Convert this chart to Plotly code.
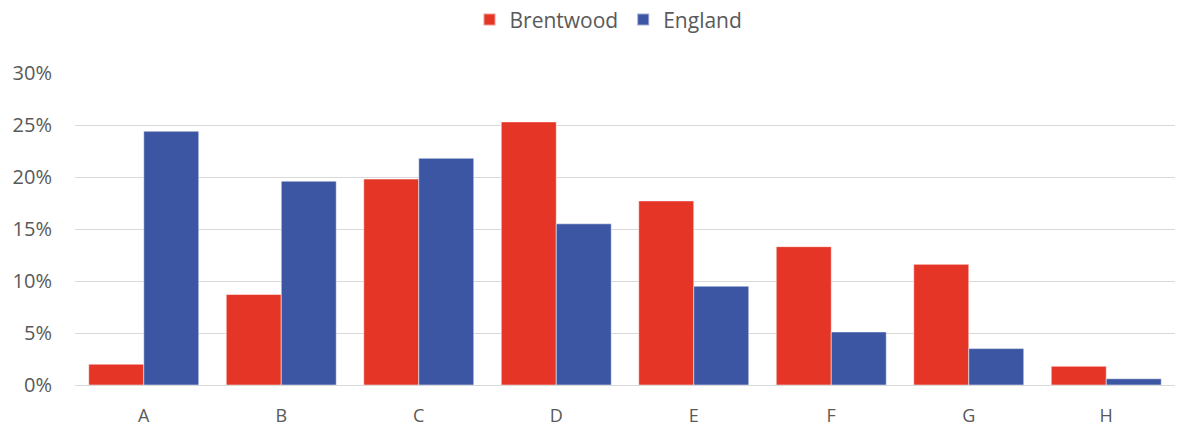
import plotly.graph_objects as go

categories = ["A", "B", "C", "D", "E", "F", "G", "H"]
brentwood = [2.0, 8.7, 19.8, 25.3, 17.7, 13.3, 11.6, 1.8]
england = [24.4, 19.6, 21.8, 15.5, 9.5, 5.1, 3.5, 0.6]
tick_vals = [0, 5, 10, 15, 20, 25, 30]
tick_text = ["0%", "5%", "10%", "15%", "20%", "25%", "30%"]

fig = go.Figure()
fig.add_trace(go.Bar(name="Brentwood", x=categories, y=brentwood,
                     marker=dict(color="#E43526", line=dict(color="rgba(255,255,255,0.5)", width=1))))
fig.add_trace(go.Bar(name="England", x=categories, y=england,
                     marker=dict(color="#3C56A3", line=dict(color="rgba(255,255,255,0.5)", width=1))))

fig.update_layout(
    width=1178, height=428,
    margin=dict(l=75, r=3, t=73, b=43, autoexpand=False),
    paper_bgcolor="white", plot_bgcolor="white",
    barmode="group", bargap=0.2, bargroupgap=0,
    font=dict(family="Open Sans, Liberation Sans, sans-serif", color="#595959", size=20),
    legend=dict(orientation="h", x=0.485, xanchor="center", y=1.17, yanchor="middle",
                font=dict(size=21), itemsizing="constant", traceorder="normal"),
    showlegend=True,
)
fig.update_xaxes(showgrid=False, showline=True, linecolor="#D9D9D9", linewidth=1,
                 ticks="", tickfont=dict(size=18), ticklabelstandoff=14, automargin=False)
fig.update_yaxes(range=[0, 30], tickvals=tick_vals, ticktext=tick_text,
                 showgrid=True, gridcolor="#D9D9D9", gridwidth=1, zeroline=False,
                 showline=False, ticks="", tickfont=dict(size=20), ticklabelstandoff=22,
                 automargin=False)

# remove the default 8px page margin so the figure sits at the window's top-left corner
fig.write_html("out.html", config={"displayModeBar": False},
               post_script="document.body.style.margin='0';")
